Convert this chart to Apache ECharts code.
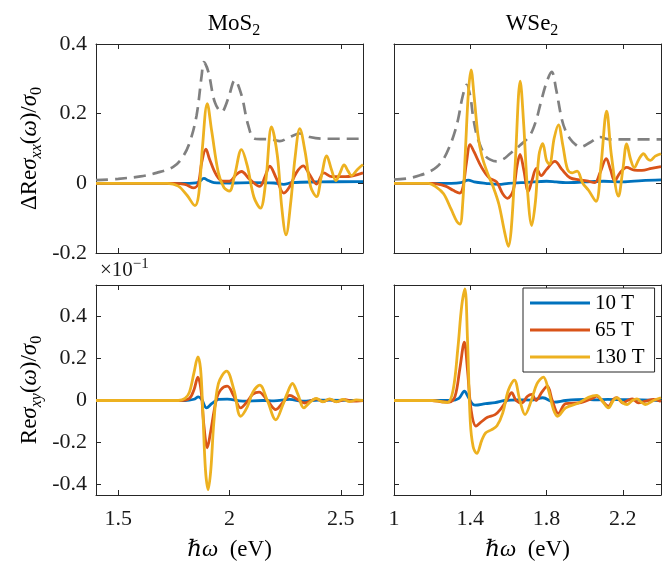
<!DOCTYPE html>
<html>
<head>
<meta charset="utf-8">
<script src="https://cdn.jsdelivr.net/npm/echarts@6/dist/echarts.min.js"></script>
<style>
html,body{margin:0;padding:0;background:#fff;}
#main{width:670px;height:564px;}
</style>
</head>
<body>
<div id="main"></div>
<script>
// ---- data (x in eV, y) ----
// top row: Delta Re sigma_xx / sigma_0
var mos2Ref = [[1.40,0.009],[1.50,0.013],[1.60,0.02],[1.672,0.03],[1.747,0.047],[1.79,0.076],[1.822,0.119],[1.852,0.195],[1.875,0.31],[1.885,0.348],[1.905,0.32],[1.934,0.233],[1.964,0.205],[1.994,0.243],[2.024,0.296],[2.054,0.253],[2.084,0.167],[2.114,0.128],[2.189,0.126],[2.226,0.121],[2.271,0.133],[2.316,0.143],[2.361,0.133],[2.42,0.128],[2.6,0.128]];
var mos2Xx10 = [[1.4,0],[1.8,0],[1.86,0.003],[1.885,0.014],[1.905,0.008],[1.93,0.002],[2.0,0.001],[2.1,0.002],[2.2,0.001],[2.244,-0.003],[2.28,0.002],[2.4,0.004],[2.6,0.005]];
var mos2Xx65 = [[1.4,0],[1.75,0],[1.8,-0.003],[1.84,-0.013],[1.86,0.0],[1.875,0.06],[1.894,0.098],[1.91,0.07],[1.94,0.025],[1.97,0.006],[2.0,0.006],[2.03,0.025],[2.054,0.034],[2.09,0.012],[2.136,-0.009],[2.16,0.02],[2.181,0.049],[2.21,0.015],[2.244,-0.028],[2.27,-0.01],[2.3,0.03],[2.331,0.05],[2.36,0.025],[2.391,-0.002],[2.424,0.03],[2.46,0.019],[2.52,0.019],[2.6,0.03]];
var mos2Xx130 = [[1.4,0],[1.72,0],[1.77,-0.008],[1.81,-0.035],[1.845,-0.064],[1.862,-0.03],[1.878,0.1],[1.9,0.229],[1.92,0.15],[1.95,0.03],[1.975,-0.012],[2.0,-0.022],[2.022,0.02],[2.054,0.097],[2.08,0.05],[2.11,-0.04],[2.139,-0.071],[2.162,0.0],[2.189,0.162],[2.215,0.08],[2.235,-0.07],[2.254,-0.148],[2.276,-0.05],[2.294,0.07],[2.316,0.157],[2.34,0.09],[2.365,-0.01],[2.391,-0.038],[2.413,0.02],[2.437,0.079],[2.458,0.04],[2.478,0.008],[2.497,0.03],[2.515,0.053],[2.533,0.035],[2.548,0.022],[2.575,0.04],[2.6,0.054]];

var wse2Ref = [[1.0,0.011],[1.08,0.015],[1.136,0.023],[1.18,0.032],[1.224,0.047],[1.26,0.07],[1.294,0.109],[1.32,0.15],[1.337,0.186],[1.36,0.25],[1.381,0.283],[1.4,0.25],[1.415,0.19],[1.434,0.138],[1.455,0.105],[1.477,0.08],[1.505,0.068],[1.538,0.063],[1.575,0.07],[1.608,0.085],[1.661,0.109],[1.713,0.138],[1.745,0.18],[1.766,0.224],[1.8,0.29],[1.827,0.32],[1.85,0.27],[1.879,0.186],[1.9,0.15],[1.923,0.128],[1.95,0.112],[1.976,0.104],[2.03,0.118],[2.08,0.133],[2.12,0.127],[2.2,0.126],[2.4,0.126]];
var wse2Xx10 = [[1.0,0],[1.3,0],[1.35,0.002],[1.39,0.009],[1.42,0.004],[1.48,0.0],[1.55,-0.003],[1.6,0.0],[1.7,0.003],[1.8,0.006],[1.85,0.004],[1.9,0.002],[2.0,0.004],[2.1,0.006],[2.2,0.004],[2.3,0.008],[2.4,0.01]];
var wse2Xx65 = [[1.0,0],[1.2,0],[1.27,-0.008],[1.31,-0.02],[1.345,-0.028],[1.362,-0.01],[1.38,0.06],[1.399,0.111],[1.42,0.09],[1.46,0.045],[1.5,0.015],[1.538,0.004],[1.57,-0.03],[1.595,-0.043],[1.625,-0.02],[1.645,0.05],[1.661,0.083],[1.68,0.04],[1.704,-0.023],[1.722,0.005],[1.747,0.043],[1.772,0.022],[1.8,0.04],[1.844,0.063],[1.88,0.04],[1.923,0.016],[1.97,0.01],[2.01,0.007],[2.053,0.002],[2.08,0.03],[2.113,0.071],[2.135,0.04],[2.157,0.007],[2.185,0.03],[2.22,0.046],[2.26,0.038],[2.3,0.037],[2.35,0.043],[2.4,0.048]];
var wse2Xx130 = [[1.0,0],[1.18,0],[1.22,-0.01],[1.26,-0.03],[1.3,-0.075],[1.33,-0.11],[1.346,-0.117],[1.36,-0.06],[1.375,0.1],[1.39,0.26],[1.404,0.326],[1.42,0.25],[1.44,0.14],[1.46,0.08],[1.49,0.03],[1.52,-0.01],[1.55,-0.06],[1.58,-0.14],[1.6,-0.181],[1.615,-0.13],[1.635,0.05],[1.662,0.293],[1.68,0.17],[1.7,-0.02],[1.722,-0.121],[1.742,-0.05],[1.76,0.08],[1.78,0.114],[1.8,0.065],[1.815,0.055],[1.84,0.13],[1.862,0.168],[1.885,0.11],[1.91,0.04],[1.935,0.03],[1.96,0.035],[1.99,0.0],[2.02,-0.02],[2.059,-0.052],[2.085,0.05],[2.115,0.207],[2.14,0.08],[2.177,-0.037],[2.2,0.04],[2.22,0.113],[2.24,0.07],[2.26,0.045],[2.285,0.07],[2.308,0.085],[2.33,0.07],[2.345,0.066],[2.37,0.078],[2.4,0.085]];

// bottom row: Re sigma_xy / sigma_0 (x 10^-1)
var mos2Xy10 = [[1.4,0],[1.8,0],[1.84,0.006],[1.86,0.017],[1.875,0.005],[1.897,-0.035],[1.92,-0.015],[1.95,0.005],[1.99,0.007],[2.06,-0.003],[2.15,0.0],[2.2,-0.002],[2.27,0.005],[2.33,-0.003],[2.4,0.002],[2.6,0]];
var mos2Xy65 = [[1.4,0],[1.78,0],[1.82,0.01],[1.84,0.05],[1.858,0.111],[1.872,0.05],[1.885,-0.12],[1.9,-0.225],[1.915,-0.15],[1.94,0.0],[1.96,0.05],[1.99,0.068],[2.02,0.02],[2.05,-0.035],[2.08,-0.005],[2.105,0.03],[2.133,0.04],[2.17,0.0],[2.208,-0.043],[2.24,-0.01],[2.271,0.024],[2.305,0.005],[2.338,-0.012],[2.365,-0.002],[2.39,0.008],[2.42,-0.005],[2.45,0.005],[2.48,-0.005],[2.52,0.004],[2.55,-0.003],[2.6,0.0]];
var mos2Xy130 = [[1.4,0],[1.77,0],[1.8,0.01],[1.82,0.04],[1.84,0.13],[1.858,0.208],[1.87,0.15],[1.88,-0.05],[1.892,-0.33],[1.904,-0.424],[1.916,-0.33],[1.93,-0.1],[1.95,0.08],[1.987,0.14],[2.02,0.05],[2.05,-0.075],[2.08,-0.03],[2.105,0.04],[2.136,0.073],[2.17,0.0],[2.208,-0.092],[2.24,-0.02],[2.258,0.03],[2.283,0.081],[2.307,0.03],[2.334,-0.035],[2.36,-0.01],[2.39,0.01],[2.42,-0.006],[2.45,0.008],[2.48,-0.006],[2.51,0.005],[2.54,-0.005],[2.57,0.003],[2.6,0]];

var wse2Xy10 = [[1.0,0],[1.3,0],[1.34,0.01],[1.369,0.044],[1.39,0.015],[1.41,-0.015],[1.425,-0.022],[1.48,-0.015],[1.53,-0.01],[1.58,0.0],[1.65,0.003],[1.72,0.002],[1.78,0.013],[1.84,-0.008],[1.9,0.0],[2.0,0.005],[2.06,0.003],[2.12,0.005],[2.2,0.004],[2.3,0.003],[2.4,0.0]];
var wse2Xy65 = [[1.0,0],[1.2,0],[1.25,-0.006],[1.29,-0.008],[1.32,0.02],[1.345,0.15],[1.369,0.278],[1.385,0.15],[1.405,-0.05],[1.43,-0.122],[1.46,-0.1],[1.49,-0.08],[1.53,-0.067],[1.56,-0.04],[1.59,0.0],[1.617,0.037],[1.64,0.0],[1.67,-0.011],[1.7,0.02],[1.722,0.029],[1.745,0.0],[1.775,0.04],[1.804,0.068],[1.83,0.0],[1.862,-0.062],[1.9,-0.015],[1.98,-0.01],[2.04,0.01],[2.063,0.021],[2.09,0.0],[2.124,-0.027],[2.15,0.005],[2.168,0.013],[2.2,-0.011],[2.225,0.0],[2.25,0.008],[2.28,-0.011],[2.32,-0.003],[2.36,0.005],[2.4,-0.005]];
var wse2Xy130 = [[1.0,0],[1.2,0],[1.25,-0.006],[1.28,-0.01],[1.31,0.05],[1.335,0.25],[1.355,0.45],[1.372,0.532],[1.385,0.3],[1.4,-0.1],[1.415,-0.22],[1.434,-0.252],[1.46,-0.19],[1.48,-0.155],[1.51,-0.14],[1.54,-0.12],[1.57,-0.06],[1.6,0.05],[1.631,0.097],[1.66,0.0],[1.687,-0.067],[1.72,0.0],[1.75,0.08],[1.783,0.111],[1.81,0.05],[1.835,-0.04],[1.858,-0.075],[1.9,-0.035],[1.97,-0.011],[2.02,0.015],[2.063,0.024],[2.09,0.0],[2.124,-0.035],[2.15,0.0],[2.168,0.013],[2.2,-0.012],[2.222,-0.019],[2.25,0.0],[2.273,0.008],[2.3,-0.01],[2.318,-0.019],[2.36,0.0],[2.4,0.013]];

// axis ticks
var mos2Ticks = [1.5, 2, 2.5];
var wse2Ticks = [1, 1.4, 1.8, 2.2];
var xxTicks = [-0.2, 0, 0.2, 0.4];
var xyTicks = [-0.4, -0.2, 0, 0.2, 0.4];
var fieldNames = ['10 T', '65 T', '130 T'];

var fieldColors = ['#0072BD', '#D95319', '#EDB120'];
var axisColor = '#262626';
var serif = "'Liberation Serif', 'DejaVu Serif', serif";

var chart = echarts.init(document.getElementById('main'));

//label format like matlab
function tickFmt(v){
    var s = String(Math.round(v * 100) / 100);
    return s;
}

var richText = {
    r: { fontFamily: serif, fontSize: 23, fontWeight: 'normal', color: '#000', lineHeight: 30 },
    i: { fontFamily: serif, fontSize: 23, fontWeight: 'normal', fontStyle: 'italic', color: '#000', lineHeight: 30 },
    s: { fontFamily: serif, fontSize: 16, fontWeight: 'normal', fontStyle: 'italic', color: '#000', verticalAlign: 'bottom', lineHeight: 22 },
    t: { fontFamily: serif, fontSize: 16, fontWeight: 'normal', color: '#000', verticalAlign: 'bottom', lineHeight: 22 }
};

var grids = [
    { left: 96, top: 44, width: 267, height: 209 },
    { left: 394, top: 44, width: 267, height: 209 },
    { left: 96, top: 285, width: 267, height: 210 },
    { left: 394, top: 285, width: 267, height: 210 }
];

var xAxes = [];
var yAxes = [];

//one box of axes: bottom/top x, left/right y
function addAxes(g, xMin, xMax, xTicks, yMin, yMax, yTicks, showX, showY){
    var line = { show: true, onZero: false, lineStyle: { color: axisColor, width: 1 } };
    var tick = { show: true, inside: true, length: 5, customValues: xTicks, lineStyle: { color: axisColor } };
    var ytick = { show: true, inside: true, length: 5, customValues: yTicks, lineStyle: { color: axisColor } };
    xAxes.push({
        type: 'value', gridIndex: g, position: 'bottom', min: xMin, max: xMax,
        axisLine: line, axisTick: tick, splitLine: { show: false },
        axisLabel: { show: showX, customValues: xTicks, formatter: tickFmt, margin: 13,
            fontFamily: serif, fontSize: 22, color: '#1a1a1a' },
        name: showX ? '{i|ℏω}{r|  (eV)}' : '',
        nameLocation: 'middle', nameGap: 40,
        nameTextStyle: { rich: richText }
    });
    xAxes.push({
        type: 'value', gridIndex: g, position: 'top', min: xMin, max: xMax,
        axisLine: line, axisTick: tick, splitLine: { show: false }, axisLabel: { show: false }
    });
    yAxes.push({
        type: 'value', gridIndex: g, position: 'left', min: yMin, max: yMax,
        axisLine: line, axisTick: ytick, splitLine: { show: false },
        axisLabel: { show: showY, customValues: yTicks, formatter: tickFmt, margin: 9,
            fontFamily: serif, fontSize: 22, color: '#1a1a1a' }
    });
    yAxes.push({
        type: 'value', gridIndex: g, position: 'right', min: yMin, max: yMax,
        axisLine: line, axisTick: ytick, splitLine: { show: false }, axisLabel: { show: false }
    });
}

addAxes(0, 1.4, 2.6, mos2Ticks, -0.2, 0.4, xxTicks, false, true);
addAxes(1, 1.0, 2.4, wse2Ticks, -0.2, 0.4, xxTicks, false, false);
addAxes(2, 1.4, 2.6, mos2Ticks, -0.45, 0.55, xyTicks, true, true);
addAxes(3, 1.0, 2.4, wse2Ticks, -0.45, 0.55, xyTicks, true, false);

yAxes[0].name = '{r|ΔRe}{i|σ}{s|xx}{r|(}{i|ω}{r|)/}{i|σ}{t|0}';
yAxes[4].name = '{r|Re}{i|σ}{s|xy}{r|(}{i|ω}{r|)/}{i|σ}{t|0}';
[0, 4].forEach(function(k){
    yAxes[k].nameLocation = 'middle';
    yAxes[k].nameRotate = 90;
    yAxes[k].nameGap = 51;
    yAxes[k].nameTextStyle = { rich: richText };
});

var series = [];
function addLine(g, name, data, color, dashed){
    series.push({
        name: name,
        type: 'line',
        xAxisIndex: g * 2,
        yAxisIndex: g * 2,
        data: data,
        smooth: 0.35,
        symbol: 'none',
        showSymbol: false,
        clip: true,
        lineStyle: { color: color, width: dashed ? 2.7 : 2.8, type: dashed ? [12, 7] : 'solid' },
        itemStyle: { color: color }
    });
}

addLine(0, 'ref', mos2Ref, '#808080', true);
addLine(0, fieldNames[0], mos2Xx10, fieldColors[0]);
addLine(0, fieldNames[1], mos2Xx65, fieldColors[1]);
addLine(0, fieldNames[2], mos2Xx130, fieldColors[2]);
addLine(1, 'ref', wse2Ref, '#808080', true);
addLine(1, fieldNames[0], wse2Xx10, fieldColors[0]);
addLine(1, fieldNames[1], wse2Xx65, fieldColors[1]);
addLine(1, fieldNames[2], wse2Xx130, fieldColors[2]);
addLine(2, fieldNames[0], mos2Xy10, fieldColors[0]);
addLine(2, fieldNames[1], mos2Xy65, fieldColors[1]);
addLine(2, fieldNames[2], mos2Xy130, fieldColors[2]);
addLine(3, fieldNames[0], wse2Xy10, fieldColors[0]);
addLine(3, fieldNames[1], wse2Xy65, fieldColors[1]);
addLine(3, fieldNames[2], wse2Xy130, fieldColors[2]);

var option = {
    animation: false,
    backgroundColor: '#fff',
    title: [
        { text: '{r|MoS}{t|2}', left: 229, top: 4, textAlign: 'center', textStyle: { fontWeight: 'normal', rich: richText } },
        { text: '{r|WSe}{t|2}', left: 527, top: 4, textAlign: 'center', textStyle: { fontWeight: 'normal', rich: richText } },
        { text: '{r|×10}{p|−1}', left: 95, top: 252, textStyle: { fontWeight: 'normal', rich: {
            r: { fontFamily: serif, fontSize: 21, fontWeight: 'normal', color: '#1a1a1a', lineHeight: 26 },
            p: { fontFamily: serif, fontSize: 15, fontWeight: 'normal', color: '#1a1a1a', verticalAlign: 'top', lineHeight: 18 }
        } } }
    ],
    legend: {
        data: fieldNames,
        orient: 'vertical',
        left: 523,
        top: 288,
        width: 135,
        icon: 'rect',
        itemWidth: 60,
        itemHeight: 3,
        itemGap: 5,
        padding: [4, 10, 4, 7],
        backgroundColor: '#fff',
        borderColor: axisColor,
        borderWidth: 1,
        borderRadius: 0,
        selectedMode: false,
        textStyle: { fontFamily: serif, fontSize: 21, color: '#000', lineHeight: 22 }
    },
    grid: grids,
    xAxis: xAxes,
    yAxis: yAxes,
    series: series
};
chart.setOption(option);
</script>
</body>
</html>
